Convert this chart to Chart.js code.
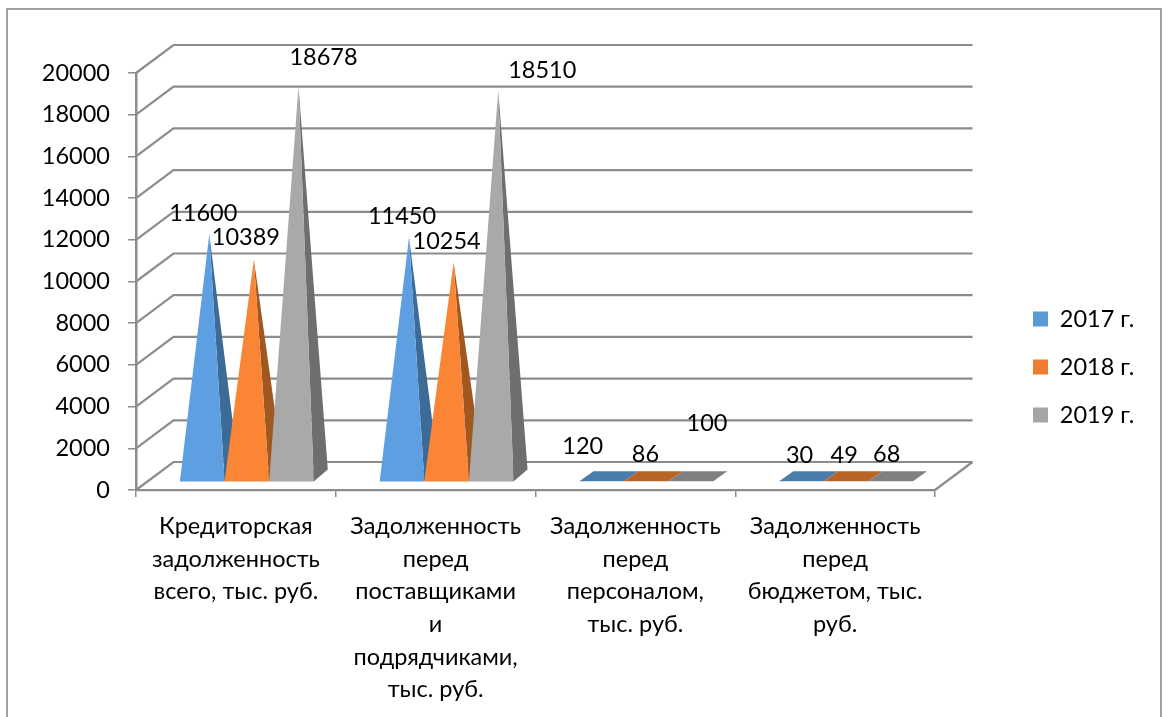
<!DOCTYPE html>
<html><head><meta charset="utf-8">
<script src="https://cdn.jsdelivr.net/npm/chart.js@4/dist/chart.umd.min.js"></script>
<style>
html,body{margin:0;padding:0;background:#fff;width:1170px;height:717px;overflow:hidden}
#wrap{position:absolute;left:0;top:0;width:1170px;height:717px}
#frame{position:absolute;left:6px;top:8px;width:1152px;height:720px;border:2px solid #a0a0a0;box-sizing:content-box}
canvas{position:absolute;left:0;top:0}
</style></head><body>
<div id="wrap"><div id="frame"></div><canvas id="c" width="1170" height="717"></canvas></div>
<script>
const categories = [
  ["Кредиторская","задолженность","всего, тыс. руб."],
  ["Задолженность","перед","поставщиками","и","подрядчиками,","тыс. руб."],
  ["Задолженность","перед","персоналом,","тыс. руб."],
  ["Задолженность","перед","бюджетом, тыс.","руб."]
];
const years = ["2017 г.","2018 г.","2019 г."];
const values2017 = [11600,11450,120,30];
const values2018 = [10389,10254,86,49];
const values2019 = [18678,18510,100,68];
const yTicks = [0,2000,4000,6000,8000,10000,12000,14000,16000,18000,20000];

const FONT = {family:'Lato, "Open Sans", sans-serif', size:23.5};
const INK = '#000000', GRID = '#8c8c8c';
const WALL = {dx:37.5, dy:28};
const BAR3D = {shiftX:11, frontUp:8, backUp:20, dx:14};
const faces = [
  {front:'#5d9fe0', side:'#3c6b97', flat:'#4a7dab'},
  {front:'#f98535', side:'#a05820', flat:'#b9652a'},
  {front:'#a9a9a9', side:'#6e6e6e', flat:'#808080'}
];
const labelShift = [
  [[-6,-21],[-7,-21],[-26,-27],[-9,-20]],
  [[-8,-22],[-7,-21],[-8,-20],[-9,-20]],
  [[25,-29],[44,-20],[9,-50],[-11,-20]]
];

function poly(ctx, pts, fill){
  ctx.beginPath();
  pts.forEach((p,i)=> i ? ctx.lineTo(p[0],p[1]) : ctx.moveTo(p[0],p[1]));
  ctx.closePath(); ctx.fillStyle = fill; ctx.fill();
}

const walls = {
  id:'walls',
  beforeDatasetsDraw(chart){
    const {ctx, chartArea:a, scales:{y}} = chart;
    ctx.save(); ctx.strokeStyle = GRID; ctx.lineWidth = 2.2;
    y.ticks.forEach(t=>{
      const py = y.getPixelForValue(t.value);
      ctx.beginPath(); ctx.moveTo(a.left,py);
      ctx.lineTo(a.left+WALL.dx,py-WALL.dy);
      ctx.lineTo(a.right+WALL.dx,py-WALL.dy); ctx.stroke();
    });
    ctx.beginPath(); ctx.moveTo(a.right,a.bottom);
    ctx.lineTo(a.right+WALL.dx,a.bottom-WALL.dy); ctx.stroke();
    ctx.restore();
  }
};

const pyramids = {
  id:'pyramids',
  beforeDatasetDraw(){ return false; },
  afterDatasetsDraw(chart){
    const ctx = chart.ctx;
    chart.data.datasets.forEach((ds,di)=>{
      const f = faces[di];
      chart.getDatasetMeta(di).data.forEach(el=>{
        const l = el.x-el.width/2+BAR3D.shiftX, r = el.x+el.width/2+BAR3D.shiftX;
        const fy = el.base-BAR3D.frontUp, by = el.base-BAR3D.backUp;
        const ax = (l+r)/2+BAR3D.dx/2, ay = el.y-(BAR3D.frontUp+BAR3D.backUp)/2;
        const tall = fy-ay > 2*(fy-by);
        const top = tall ? by : by+2;
        poly(ctx,[[l,fy],[r,fy],[r+BAR3D.dx,top],[l+BAR3D.dx,top]],f.flat);
        if (tall) {
          poly(ctx,[[r,fy],[r+BAR3D.dx,by],[ax,ay]],f.side);
          poly(ctx,[[l,fy],[r,fy],[ax,ay]],f.front);
        }
      });
    });
    ctx.save();
    ctx.font = `${FONT.size}px ${FONT.family}`;
    ctx.fillStyle = INK; ctx.textAlign='center'; ctx.textBaseline='middle';
    chart.data.datasets.forEach((ds,di)=>{
      chart.getDatasetMeta(di).data.forEach((el,i)=>{
        const ax = el.x+BAR3D.shiftX+BAR3D.dx/2, ay = el.y-(BAR3D.frontUp+BAR3D.backUp)/2;
        const s = labelShift[di][i];
        ctx.fillText(String(ds.data[i]), ax+s[0], ay+s[1]);
      });
    });
    ctx.restore();
  }
};

const legendPlace = {
  id:'legendPlace',
  beforeLayout(chart){
    const l = chart.legend;
    if (l && !l._fixed){
      const fit = l.fit;
      l.fit = function(){ fit.call(this); this.width = 235; };
      l._fixed = true;
    }
  },
  afterLayout(chart){
    const l = chart.legend, p = l.options.labels.padding;
    l.left = 1033-p; l.right = l.left+235;
    l.top -= 28; l.bottom -= 28;
  }
};

new Chart(document.getElementById('c'),{
  type:'bar',
  data:{
    labels:categories,
    datasets:[
      {label:years[0],data:values2017,backgroundColor:'#5B9BD5'},
      {label:years[1],data:values2018,backgroundColor:'#ED7D31'},
      {label:years[2],data:values2019,backgroundColor:'#A5A5A5'}
    ]
  },
  plugins:[walls,pyramids,legendPlace],
  options:{
    responsive:false, animation:false,
    layout:{padding:{top:73,left:0,right:0,bottom:0}},
    datasets:{bar:{categoryPercentage:0.67,barPercentage:1}},
    plugins:{
      tooltip:{enabled:false},
      legend:{position:'right',labels:{boxWidth:15,boxHeight:15,padding:24.5,color:INK,font:FONT}}
    },
    scales:{
      x:{
        afterFit(s){ s.height = 227; },
        grid:{drawOnChartArea:false,drawTicks:true,tickLength:7,color:GRID,lineWidth:1.5},
        border:{color:GRID,width:2.2},
        ticks:{color:INK,font:{...FONT,lineHeight:1.385},padding:13.5,maxRotation:0,minRotation:0,autoSkip:false}
      },
      y:{
        min:0,max:20000,
        afterFit(s){ s.width = 136; },
        afterBuildTicks(s){ s.ticks = yTicks.map(v=>({value:v})); },
        grid:{drawOnChartArea:false,drawTicks:true,tickLength:8,color:GRID,lineWidth:1.5},
        border:{color:GRID,width:2.5},
        ticks:{color:INK,font:FONT,padding:18,callback:v=>String(v)}
      }
    }
  }
});
</script></body></html>
